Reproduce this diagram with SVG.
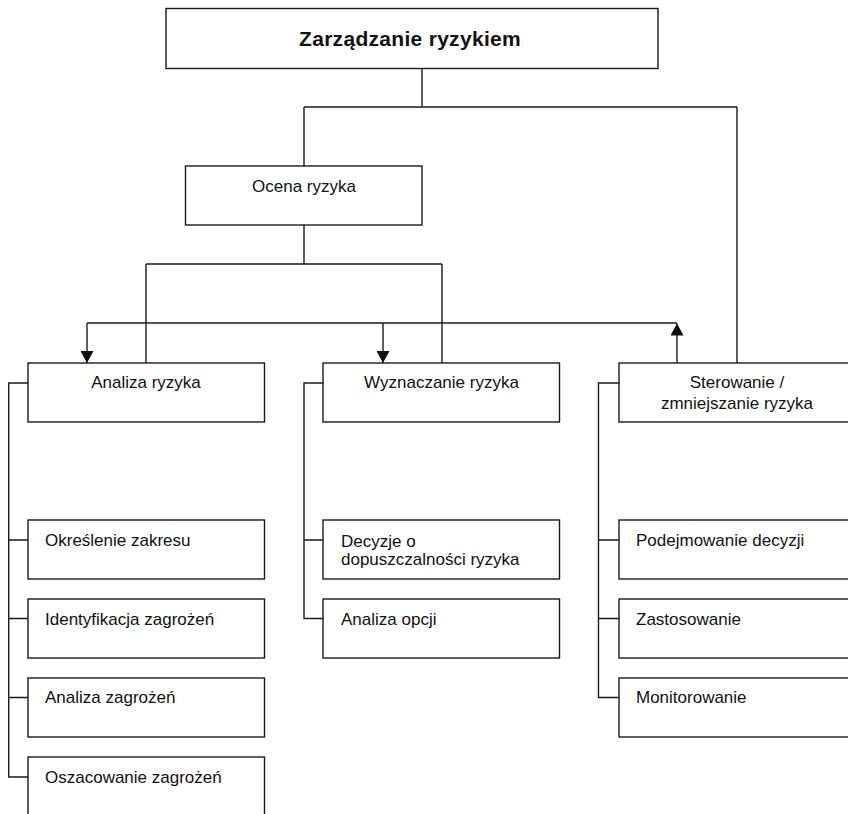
<svg xmlns="http://www.w3.org/2000/svg" width="848" height="814" viewBox="0 0 848 814">
  <style>
    .box { fill: #ffffff; stroke: #1a1a1a; stroke-width: 1.4; }
    .ln { fill: none; stroke: #1a1a1a; stroke-width: 1.4; }
    .t { font-family: "Liberation Sans", Arial, Helvetica, sans-serif; font-size: 17px; fill: #111; }
    .c { text-anchor: middle; }
    .b { font-weight: bold; font-size: 21px; letter-spacing: 0.3px; }
  </style>
  <defs>
    <marker id="arr" viewBox="0 0 12 13" refX="12" refY="6.5" markerWidth="12" markerHeight="13" markerUnits="userSpaceOnUse" orient="auto">
      <path d="M0,0 L12,6.5 L0,13 Z" fill="#111"/>
    </marker>
  </defs>
  <rect width="848" height="814" fill="#ffffff"/>

  <g id="connectors">
    <path class="ln" d="M422,68.5 V107 M304,107 H737 M304,107 V166 M737,107 V363"/>
    <path class="ln" d="M304,225 V264 M146,264 H442 M146,264 V363 M442,264 V363"/>
    <path class="ln" d="M87,323 H677"/>
    <path class="ln" d="M87,323 V363" marker-end="url(#arr)"/>
    <path class="ln" d="M383,323 V363" marker-end="url(#arr)"/>
    <path class="ln" d="M677,363 V323.5" marker-end="url(#arr)"/>
    <path class="ln" d="M28,383 H8.7 V777 H28 M8.7,540 H28 M8.7,618.5 H28 M8.7,697.5 H28"/>
    <path class="ln" d="M323,383 H304 V618.5 H323 M304,540 H323"/>
    <path class="ln" d="M619,383 H598.5 V697.5 H619 M598.5,540 H619 M598.5,618.5 H619"/>
  </g>

  <g id="zarzadzanie">
    <rect class="box" x="166" y="8.5" width="492" height="60"/>
    <text class="t c b" x="410" y="46">Zarządzanie ryzykiem</text>
  </g>
  <g id="ocena">
    <rect class="box" x="185.5" y="166" width="236.5" height="59"/>
    <text class="t c" x="304" y="192">Ocena ryzyka</text>
  </g>
  <g id="analiza">
    <rect class="box" x="28" y="363" width="236.5" height="59"/>
    <text class="t c" x="146" y="388">Analiza ryzyka</text>
  </g>
  <g id="wyznaczanie">
    <rect class="box" x="323" y="363" width="236.5" height="59"/>
    <text class="t c" x="441.5" y="388">Wyznaczanie ryzyka</text>
  </g>
  <g id="sterowanie">
    <rect class="box" x="619" y="363" width="240" height="59"/>
    <text class="t c" x="737" y="388">Sterowanie /</text>
    <text class="t c" x="737" y="409">zmniejszanie ryzyka</text>
  </g>

  <g id="okreslenie">
    <rect class="box" x="28" y="520" width="236.5" height="59"/>
    <text class="t" x="45" y="546">Określenie zakresu</text>
  </g>
  <g id="identyfikacja">
    <rect class="box" x="28" y="599" width="236.5" height="59"/>
    <text class="t" x="45" y="624.5">Identyfikacja zagrożeń</text>
  </g>
  <g id="analiza-zagrozen">
    <rect class="box" x="28" y="678" width="236.5" height="59"/>
    <text class="t" x="45" y="703">Analiza zagrożeń</text>
  </g>
  <g id="oszacowanie">
    <rect class="box" x="28" y="757" width="236.5" height="70"/>
    <text class="t" x="45" y="782.5">Oszacowanie zagrożeń</text>
  </g>

  <g id="decyzje">
    <rect class="box" x="323" y="520" width="236.5" height="59"/>
    <text class="t" x="341" y="546.5">Decyzje o</text>
    <text class="t" x="341" y="564.5">dopuszczalności ryzyka</text>
  </g>
  <g id="analiza-opcji">
    <rect class="box" x="323" y="599" width="236.5" height="59"/>
    <text class="t" x="341" y="624.5">Analiza opcji</text>
  </g>

  <g id="podejmowanie">
    <rect class="box" x="619" y="520" width="240" height="59"/>
    <text class="t" x="636" y="546">Podejmowanie decyzji</text>
  </g>
  <g id="zastosowanie">
    <rect class="box" x="619" y="599" width="240" height="59"/>
    <text class="t" x="636" y="624.5">Zastosowanie</text>
  </g>
  <g id="monitorowanie">
    <rect class="box" x="619" y="678" width="240" height="59"/>
    <text class="t" x="636" y="703">Monitorowanie</text>
  </g>
</svg>
